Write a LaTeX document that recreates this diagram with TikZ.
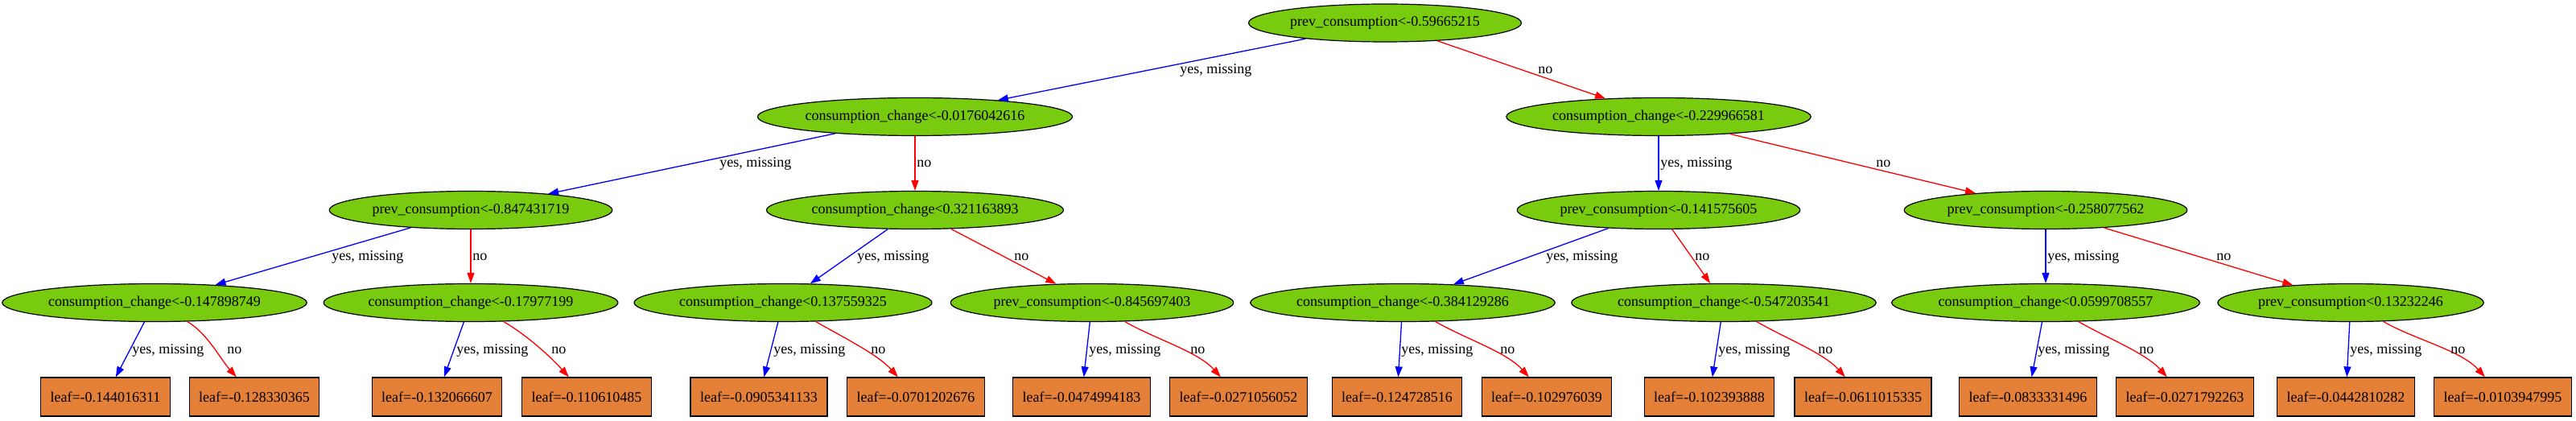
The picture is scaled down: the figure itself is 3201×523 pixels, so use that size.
\documentclass[tikz,border=0pt]{standalone}
\usepackage{fontspec}
\setmainfont{Liberation Serif}
\usetikzlibrary{shapes.geometric,arrows.meta}
\definecolor{splitgreen}{HTML}{78CB0E}
\definecolor{leaforange}{HTML}{E48038}
\tikzset{treefont/.style={font=\fontsize{9}{10}\selectfont}}
\tikzset{splitnode/.style={ellipse,draw,line width=0.6pt,fill=splitgreen,inner xsep=1pt,inner ysep=0pt,minimum height=23.5pt,treefont}}
\tikzset{leafnode/.style={rectangle,draw,line width=0.6pt,fill=leaforange,inner xsep=6pt,inner ysep=0pt,minimum height=24pt,treefont}}
\tikzset{yesedge/.style={blue,line width=0.65pt,-{Triangle[length=6.5pt,width=4.5pt]}}}
\tikzset{noedge/.style={red,line width=0.65pt,-{Triangle[length=6.5pt,width=4.5pt]}}}
\tikzset{leafbend/.style={out=-30,in=132,looseness=0.8}}
\tikzset{edgelbl/.style={anchor=west,inner sep=0pt,treefont}}

\begin{document}
\begin{tikzpicture}[x=0.5pt,y=0.5pt]
    \useasboundingbox[fill=white] (0,0) rectangle (3201,-523);

    % splits
    \node[splitnode] (root) at (1721,-28.5) {prev\_consumption<-0.59665215};
    \node[splitnode] (c1) at (1137,-145) {consumption\_change<-0.0176042616};
    \node[splitnode] (c2) at (2061,-145) {consumption\_change<-0.229966581};
    \node[splitnode] (p1) at (585,-261) {prev\_consumption<-0.847431719};
    \node[splitnode] (c3) at (1137,-261) {consumption\_change<0.321163893};
    \node[splitnode] (p2) at (2061,-261) {prev\_consumption<-0.141575605};
    \node[splitnode] (p3) at (2542,-261) {prev\_consumption<-0.258077562};
    \node[splitnode] (c4) at (192,-376) {consumption\_change<-0.147898749};
    \node[splitnode] (c5) at (585,-376) {consumption\_change<-0.17977199};
    \node[splitnode] (c6) at (973,-376) {consumption\_change<0.137559325};
    \node[splitnode] (p4) at (1357,-376) {prev\_consumption<-0.845697403};
    \node[splitnode] (c7) at (1743,-376) {consumption\_change<-0.384129286};
    \node[splitnode] (c8) at (2142,-376) {consumption\_change<-0.547203541};
    \node[splitnode] (c9) at (2542,-376) {consumption\_change<0.0599708557};
    \node[splitnode] (p5) at (2921,-376) {prev\_consumption<0.13232246};

    % leaves
    \node[leafnode] (lf1) at (131,-493) {leaf=-0.144016311};
    \node[leafnode] (lf2) at (316,-493) {leaf=-0.128330365};
    \node[leafnode] (lf3) at (543,-493) {leaf=-0.132066607};
    \node[leafnode] (lf4) at (729,-493) {leaf=-0.110610485};
    \node[leafnode] (lf5) at (943,-493) {leaf=-0.0905341133};
    \node[leafnode] (lf6) at (1138,-493) {leaf=-0.0701202676};
    \node[leafnode] (lf7) at (1344,-493) {leaf=-0.0474994183};
    \node[leafnode] (lf8) at (1539,-493) {leaf=-0.0271056052};
    \node[leafnode] (lf9) at (1736,-493) {leaf=-0.124728516};
    \node[leafnode] (lf10) at (1922,-493) {leaf=-0.102976039};
    \node[leafnode] (lf11) at (2124,-493) {leaf=-0.102393888};
    \node[leafnode] (lf12) at (2315,-493) {leaf=-0.0611015335};
    \node[leafnode] (lf13) at (2520,-493) {leaf=-0.0833331496};
    \node[leafnode] (lf14) at (2715,-493) {leaf=-0.0271792263};
    \node[leafnode] (lf15) at (2915,-493) {leaf=-0.0442810282};
    \node[leafnode] (lf16) at (3110,-493) {leaf=-0.0103947995};

    % edges
    \draw[yesedge] (root) -- (c1);
    \draw[noedge] (root) -- (c2);
    \draw[yesedge] (c1) -- (p1);
    \draw[noedge] (c1) -- (c3);
    \draw[yesedge] (c2) -- (p2);
    \draw[noedge] (c2) -- (p3);
    \draw[yesedge] (p1) -- (c4);
    \draw[noedge] (p1) -- (c5);
    \draw[yesedge] (c3) -- (c6);
    \draw[noedge] (c3) -- (p4);
    \draw[yesedge] (p2) -- (c7);
    \draw[noedge] (p2) -- (c8);
    \draw[yesedge] (p3) -- (c9);
    \draw[noedge] (p3) -- (p5);

    \draw[yesedge] (c4) -- (lf1);
    \draw[noedge] (c4) to[leafbend] (lf2);
    \draw[yesedge] (c5) -- (lf3);
    \draw[noedge] (c5) to[leafbend] (lf4);
    \draw[yesedge] (c6) -- (lf5);
    \draw[noedge] (c6) to[leafbend] (lf6);
    \draw[yesedge] (p4) -- (lf7);
    \draw[noedge] (p4) to[leafbend] (lf8);
    \draw[yesedge] (c7) -- (lf9);
    \draw[noedge] (c7) to[leafbend] (lf10);
    \draw[yesedge] (c8) -- (lf11);
    \draw[noedge] (c8) to[leafbend] (lf12);
    \draw[yesedge] (c9) -- (lf13);
    \draw[noedge] (c9) to[leafbend] (lf14);
    \draw[yesedge] (p5) -- (lf15);
    \draw[noedge] (p5) to[leafbend] (lf16);

    % edge labels
    \node[edgelbl] at (1466,-87) {yes, missing};
    \node[edgelbl] at (1911,-87) {no};
    \node[edgelbl] at (894,-203) {yes, missing};
    \node[edgelbl] at (1139,-203) {no};
    \node[edgelbl] at (2063,-203) {yes, missing};
    \node[edgelbl] at (2331,-203) {no};
    \node[edgelbl] at (412,-319) {yes, missing};
    \node[edgelbl] at (587,-319) {no};
    \node[edgelbl] at (1065,-319) {yes, missing};
    \node[edgelbl] at (1260,-319) {no};
    \node[edgelbl] at (1921,-319) {yes, missing};
    \node[edgelbl] at (2106,-319) {no};
    \node[edgelbl] at (2544,-319) {yes, missing};
    \node[edgelbl] at (2754,-319) {no};
    \node[edgelbl] at (164,-435) {yes, missing};
    \node[edgelbl] at (282,-435) {no};
    \node[edgelbl] at (567,-435) {yes, missing};
    \node[edgelbl] at (685,-435) {no};
    \node[edgelbl] at (961,-435) {yes, missing};
    \node[edgelbl] at (1082,-435) {no};
    \node[edgelbl] at (1353,-435) {yes, missing};
    \node[edgelbl] at (1479,-435) {no};
    \node[edgelbl] at (1741,-435) {yes, missing};
    \node[edgelbl] at (1864,-435) {no};
    \node[edgelbl] at (2135,-435) {yes, missing};
    \node[edgelbl] at (2259,-435) {no};
    \node[edgelbl] at (2532,-435) {yes, missing};
    \node[edgelbl] at (2658,-435) {no};
    \node[edgelbl] at (2920,-435) {yes, missing};
    \node[edgelbl] at (3045,-435) {no};
\end{tikzpicture}
\end{document}
